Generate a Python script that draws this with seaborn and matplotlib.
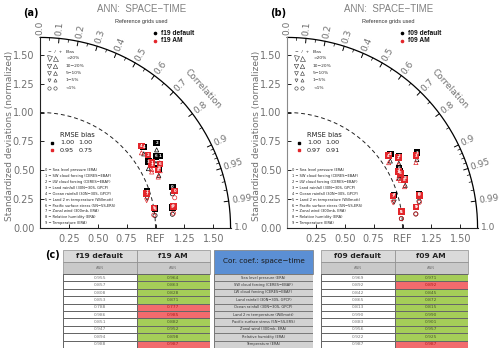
"""Taylor diagrams for f19 / f09 runs plus correlation table."""

import matplotlib.pyplot as plt
import numpy as np
import pandas as pd
import seaborn as sns
from matplotlib.colors import ListedColormap
from matplotlib.patches import Rectangle

sns.set_theme(style="white")
plt.rcParams["font.family"] = ["DejaVu Sans"]

variables = [
    "Sea level pressure (ERA)",
    "SW cloud forcing (CERES−EBAF)",
    "LW cloud forcing (CERES−EBAF)",
    "Land rainfall (30N−30S, GPCP)",
    "Ocean rainfall (30N−30S, GPCP)",
    "Land 2 m temperature (Willmott)",
    "Pacific surface stress (5N−5S,ERS)",
    "Zonal wind (300mb, ERA)",
    "Relative humidity (ERA)",
    "Temperature (ERA)",
]

# space-time correlation (table)
corr_f19_default = [0.955, 0.857, 0.808, 0.853, 0.788, 0.986, 0.851, 0.947, 0.894, 0.988]
corr_f19_am = [0.964, 0.863, 0.828, 0.871, 0.777, 0.985, 0.882, 0.952, 0.898, 0.987]
corr_f09_default = [0.969, 0.892, 0.842, 0.865, 0.813, 0.990, 0.883, 0.956, 0.922, 0.987]
corr_f09_am = [0.971, 0.892, 0.845, 0.872, 0.815, 0.990, 0.901, 0.957, 0.925, 0.987]

# normalized standard deviations
std_f19_default = [1.20, 1.21, 1.25, 1.10, 1.14, 1.01, 1.18, 0.98, 1.15, 1.16]
std_f19_am = [1.21, 1.12, 1.13, 1.11, 1.13, 1.00, 1.18, 0.97, 1.14, 1.17]
std_f09_default = [1.18, 1.09, 1.15, 1.30, 1.10, 1.00, 1.10, 0.97, 1.11, 1.13]
std_f09_am = [1.18, 1.08, 1.14, 1.28, 1.08, 1.00, 1.09, 0.96, 1.10, 1.13]

# bias symbol per variable: o <1%, ^ positive, v negative
bias_marks = ["o", "^", "^", "^", "^", "o", "^", "v", "^", "o"]

# cell colour of the AM column: True = green, False = red
am_better_f19 = [True, True, True, True, False, False, True, True, True, False]
am_better_f09 = [True, False, True, True, True, True, True, True, True, False]

rmse_bias_f19 = [("1.00", "1.00"), ("0.95", "0.75")]
rmse_bias_f09 = [("1.00", "1.00"), ("0.97", "0.91")]

bias_legend = [">20%", "10−20%", "5−10%", "1−5%", "<1%"]
corr_ticks = [0.0, 0.1, 0.2, 0.3, 0.4, 0.5, 0.6, 0.7, 0.8, 0.9, 0.95, 0.99, 1.0]
corr_minor = [0.05, 0.15, 0.25, 0.35, 0.45, 0.55, 0.65, 0.75, 0.85,
              0.91, 0.92, 0.93, 0.94, 0.96, 0.97, 0.98]

RED = "#e3262b"
GREEN = "#a5cd58"
PINK = "#f26b6d"
GRAY_TXT = "#707070"
RMAX = 1.65


def draw_taylor(ax, cases, corrs, stds, spine_color):
    rows = []
    for case, corr, std in zip(cases, corrs, stds):
        for i, (c, s) in enumerate(zip(corr, std)):
            th = np.arccos(c)
            rows.append({"case": case, "idx": i, "x": s * np.cos(th), "y": s * np.sin(th)})
    df = pd.DataFrame(rows)

    th = np.linspace(0, np.pi / 2, 300)
    ax.plot(RMAX * np.cos(th), RMAX * np.sin(th), color="black", lw=0.9, clip_on=False)
    ax.plot(np.cos(th), np.sin(th), color="#222", lw=0.7, ls=(0, (4, 3)), clip_on=False)

    for c in corr_ticks:
        t = np.arccos(c)
        ax.plot([1.61 * np.cos(t), RMAX * np.cos(t)], [1.61 * np.sin(t), RMAX * np.sin(t)],
                color="black", lw=0.7, clip_on=False)
        ax.text(1.675 * np.cos(t), 1.675 * np.sin(t), f"{c:g}" if c not in (0.0, 1.0) else f"{c:.1f}",
                rotation=np.degrees(t), rotation_mode="anchor", ha="left", va="center",
                fontsize=6.5, color=GRAY_TXT)
    for c in corr_minor:
        t = np.arccos(c)
        ax.plot([1.625 * np.cos(t), RMAX * np.cos(t)], [1.625 * np.sin(t), RMAX * np.sin(t)],
                color="black", lw=0.5, clip_on=False)

    sns.scatterplot(data=df, x="x", y="y", hue="case", palette=["black", RED], marker="s",
                    s=22, linewidth=0, legend=False, ax=ax, zorder=5, clip_on=False)
    for _, r in df.iterrows():
        col = "black" if r["case"] == cases[0] else RED
        ax.text(r["x"], r["y"], str(r["idx"]), color="white", fontsize=2.8, ha="center",
                va="center", zorder=6, fontweight="bold")
        ax.scatter(r["x"], r["y"] - 0.06, marker=bias_marks[r["idx"]], s=9,
                   facecolors="none", edgecolors=col, linewidths=0.5, zorder=4)

    ax.set_xlim(0, RMAX)
    ax.set_ylim(0, RMAX)
    ax.set_xlabel("")
    ax.set_ylabel("")
    ax.set_facecolor("none")
    ax.grid(False)
    for s in ["top", "right"]:
        ax.spines[s].set_visible(False)
    ax.spines["bottom"].set_color("#222")
    ax.spines["left"].set_color(spine_color)
    for s in ["left", "bottom"]:
        ax.spines[s].set_linewidth(0.8)
    ax.set_xticks([0.25, 0.5, 0.75, 1.0, 1.25, 1.5], ["0.25", "0.50", "0.75", "REF", "1.25", "1.50"])
    ax.set_yticks([0, 0.25, 0.5, 0.75, 1.0, 1.25, 1.5],
                  ["0.00", "0.25", "0.50", "0.75", "1.00", "1.25", "1.50"])
    ax.tick_params(direction="in", length=3, width=0.7, color="#222", labelsize=7,
                   labelcolor=GRAY_TXT, pad=4, left=True, bottom=True)


def annotate_panel(ov, dx, letter, names, rmse_bias):
    ov.text(31 + dx, 13, letter, fontsize=7, fontweight="bold", ha="center", va="center", color="black")
    ov.text(141.5 + dx, 8.5, "ANN:  SPACE−TIME", fontsize=7, ha="center", va="center",
            color="#808080", family="Liberation Sans")
    ov.text(141.5 + dx, 21.5, "Reference grids used", fontsize=4, ha="center", va="center",
            color="#333", family="Liberation Sans")
    for k, (name, col) in enumerate(zip(names, ["black", RED])):
        y = 33.3 + 7.7 * k
        ov.plot(155 + dx, y, "o", ms=1.6, color=col)
        ov.text(161 + dx, y, name, fontsize=4.8, fontweight="bold", ha="left", va="center",
                color="#111", family="Liberation Sans")

    ov.text(48 + dx, 51.7, "−  /  +", fontsize=3.2, ha="left", va="center", color="#333")
    ov.text(66 + dx, 51.7, "Bias", fontsize=3.2, ha="left", va="center", color="#333")
    sizes = [3.6, 3.2, 2.8, 2.2]
    for k, lab in enumerate(bias_legend):
        y = 58.3 + 7.35 * k
        if k < 4:
            ov.plot(48.5 + dx, y, "v", ms=sizes[k], mfc="none", mec="#333", mew=0.4)
            ov.plot(54.5 + dx, y, "^", ms=sizes[k], mfc="none", mec="#333", mew=0.4)
        else:
            ov.plot(48.5 + dx, y, "o", ms=2.4, mfc="none", mec="#333", mew=0.4)
            ov.plot(54.5 + dx, y, "o", ms=2.4, mfc="none", mec="#333", mew=0.4)
        ov.text(66 + dx, y, lab, fontsize=3.2, ha="left", va="center", color="#333")

    ov.text(60 + dx, 135, "RMSE bias", fontsize=4.9, ha="left", va="center", color="#222")
    for k, ((rm, bi), col) in enumerate(zip(rmse_bias, ["black", RED])):
        y = 142.7 + 7.5 * k
        ov.plot(51.7 + dx, y, "s", ms=2, color=col)
        ov.text(60 + dx, y, rm, fontsize=4.6, ha="left", va="center", color="#222")
        ov.text(78.5 + dx, y, bi, fontsize=4.6, ha="left", va="center", color="#222")

    for k, name in enumerate(variables):
        ov.text(45 + dx, 170 + 5.92 * k, f"{k} − {name}", fontsize=2.6, ha="left",
                va="center", color="#222")

    ov.text(10 + dx, 136, "Standardized deviations (normalized)", rotation=90, fontsize=6.5,
            ha="center", va="center", color=GRAY_TXT)
    ov.text(203 + dx, 89, "Correlation", rotation=-48, fontsize=6.5, ha="center", va="center",
            color=GRAY_TXT)


def value_table(fig, ov, x0, x1, names, default_vals, am_vals, better):
    xm = (x0 + x1) / 2
    for a, b, name in [(x0, xm, names[0]), (xm, x1, names[1])]:
        ov.add_patch(Rectangle((a, 250), b - a, 12, fc="#dadada", ec="#8c8c8c", lw=0.5))
        ov.add_patch(Rectangle((a, 262), b - a, 12, fc="#c9c9c9", ec="#8c8c8c", lw=0.5))
        ov.text((a + b) / 2, 256, name, fontsize=5.4, fontweight="bold", ha="center",
                va="center", color="#222")
        ov.text((a + b) / 2, 268, "ANN", fontsize=2.6, ha="center", va="center", color="#777")

    ax = fig.add_axes([x0 / 500, (357 - 348) / 357, (x1 - x0) / 500, 74 / 357])
    codes = np.column_stack([np.zeros(len(default_vals)), np.where(better, 1, 2)])
    labels = np.column_stack([[f"{v:.3f}" for v in default_vals], [f"{v:.3f}" for v in am_vals]])
    sns.heatmap(codes, ax=ax, cmap=ListedColormap(["white", GREEN, PINK]), vmin=0, vmax=2,
                annot=labels, fmt="", cbar=False, linewidths=0.7, linecolor="#666",
                annot_kws={"fontsize": 3.2}, xticklabels=False, yticklabels=False)
    for t in ax.texts:
        x, _ = t.get_position()
        if x < 1:
            t.set_color("#777")
        else:
            row = int(t.get_position()[1])
            t.set_color("#4a5a2a" if better[row] else "#b01c1c")


fig = plt.figure(figsize=(5, 3.57), dpi=100)
ov = fig.add_axes([0, 0, 1, 1])
ov.set_xlim(0, 500)
ov.set_ylim(357, 0)
ov.axis("off")

scale = 115.5
size = RMAX * scale
ax_a = fig.add_axes([40 / 500, (357 - 228) / 357, size / 500, size / 357])
ax_b = fig.add_axes([287 / 500, (357 - 228) / 357, size / 500, size / 357])

draw_taylor(ax_a, ["f19 default", "f19 AM"], [corr_f19_default, corr_f19_am],
            [std_f19_default, std_f19_am], "#222")
draw_taylor(ax_b, ["f09 default", "f09 AM"], [corr_f09_default, corr_f09_am],
            [std_f09_default, std_f09_am], "#8a8a8a")
annotate_panel(ov, 0, "(a)", ["f19 default", "f19 AM"], rmse_bias_f19)
annotate_panel(ov, 247, "(b)", ["f09 default", "f09 AM"], rmse_bias_f09)

# table (c)
ov.text(52, 255, "(c)", fontsize=7, fontweight="bold", ha="center", va="center", color="black")
value_table(fig, ov, 63, 210, ["f19 default", "f19 AM"], corr_f19_default, corr_f19_am, am_better_f19)
value_table(fig, ov, 321, 468, ["f09 default", "f09 AM"], corr_f09_default, corr_f09_am, am_better_f09)

ov.add_patch(Rectangle((214, 250), 99, 23.5, fc="#5b8fd4", ec="#7a7a7a", lw=0.5))
ov.text(263.5, 261.5, "Cor. coef.: space−time", fontsize=5.2, ha="center", va="center", color="#1a1a1a")
ax_m = fig.add_axes([214 / 500, (357 - 348) / 357, 99 / 500, 74 / 357])
sns.heatmap(np.zeros((len(variables), 1)), ax=ax_m, cmap=ListedColormap(["#d2d2d2"]),
            annot=np.array(variables).reshape(-1, 1), fmt="", cbar=False, linewidths=0.7,
            linecolor="#7a7a7a", annot_kws={"fontsize": 2.6, "color": "#333"},
            xticklabels=False, yticklabels=False)

fig.savefig("out.png", dpi=100)
